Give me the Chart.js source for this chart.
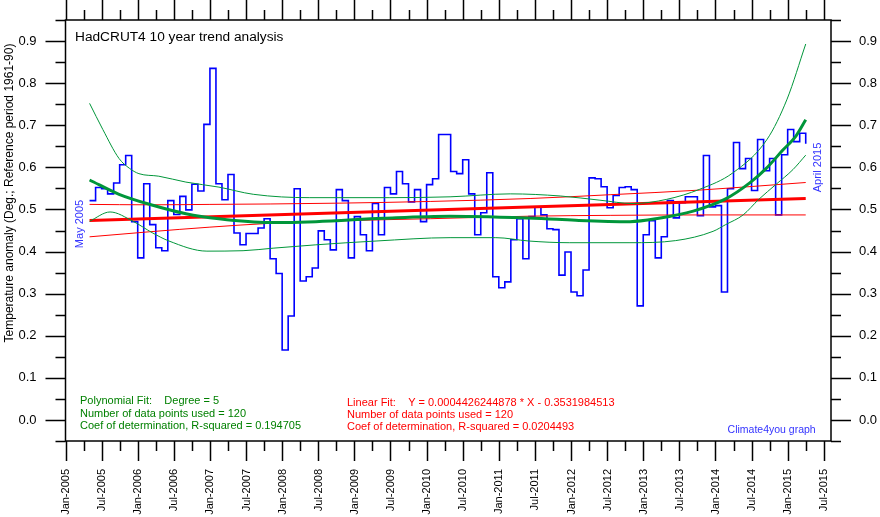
<!DOCTYPE html>
<html><head><meta charset="utf-8">
<script src="https://cdn.jsdelivr.net/npm/chart.js@4.4.1/dist/chart.umd.min.js"></script>
<style>html,body{margin:0;padding:0;background:#fff;}canvas{display:block;}</style>
</head><body>
<canvas id="c" width="880" height="517"></canvas>
<script>
// ---- data (x = months since Jan 2005) ----
const startMonth = 4; // May 2005
const anomalies = [
 0.521,0.552,0.549,0.537,0.563,0.606,0.628,0.471,0.385,0.561,
 0.464,0.409,0.402,0.521,0.488,0.531,0.499,0.560,0.544,0.702,
 0.835,0.561,0.523,0.583,0.444,0.416,0.443,0.443,0.456,0.478,
 0.383,0.348,0.166,0.247,0.549,0.330,0.340,0.361,0.449,0.428,
 0.404,0.547,0.521,0.385,0.483,0.440,0.402,0.514,0.440,0.552,
 0.537,0.590,0.561,0.518,0.547,0.471,0.559,0.573,0.678,0.678,
 0.590,0.585,0.618,0.537,0.440,0.492,0.587,0.340,0.314,0.328,
 0.428,0.478,0.383,0.483,0.506,0.487,0.454,0.452,0.344,0.399,
 0.304,0.295,0.356,0.575,0.573,0.554,0.504,0.533,0.552,0.554,
 0.547,0.271,0.440,0.473,0.385,0.435,0.521,0.480,0.516,0.530,
 0.530,0.485,0.628,0.506,0.509,0.304,0.549,0.659,0.597,0.621,
 0.545,0.666,0.592,0.621,0.487,0.630,0.690,0.661,0.681,0.656
];
// linear fit
const linFitX = [4, 123];
const linFitY = [0.474, 0.526];
const linUpperX = [4, 14, 24, 34, 45.6, 60.6, 77.2, 90.5, 105.4, 123];
const linUpperY = [0.512,0.511,0.512,0.513,0.515,0.519,0.526,0.535,0.546,0.564];
const linLowerX = [4, 14, 24, 34, 45.6, 60.6, 77.2, 90.5, 105.4, 123];
const linLowerY = [0.435,0.447,0.458,0.467,0.473,0.478,0.484,0.486,0.487,0.487];
// polynomial fit (degree 5) and its band
const polyX = [4, 8.9, 14.5, 20, 25.5, 33.8, 41.6, 52.8, 63.9, 79.8, 85.3, 93.8, 98.6, 104.3, 109.7, 113.7, 116.4, 119.2, 121.4, 123];
const polyY = [0.570,0.536,0.510,0.490,0.478,0.469,0.471,0.479,0.484,0.478,0.474,0.471,0.479,0.496,0.525,0.563,0.597,0.641,0.675,0.713];
const polyUpperX = [4, 6.2, 8.9, 10.6, 12.2, 15.5, 20, 25.5, 31.2, 40.6, 53.9, 63.9, 73.9, 82.2, 88.8, 94.3, 99.9, 105.4, 110.9, 116.6, 119.9, 123];
const polyUpperY = [0.752,0.690,0.621,0.598,0.585,0.579,0.565,0.553,0.536,0.528,0.528,0.530,0.537,0.532,0.522,0.514,0.524,0.548,0.587,0.667,0.762,0.893];
const polyLowerX = [4, 7.4, 11.2, 14.5, 17.2, 23.5, 29.5, 34.5, 41.6, 51.6, 63.9, 71.5, 77, 83.7, 93.8, 101.4, 107.6, 109.7, 112.6, 115.2, 118.1, 120.9, 123];
const polyLowerY = [0.472,0.494,0.472,0.444,0.425,0.401,0.402,0.408,0.416,0.425,0.433,0.433,0.425,0.421,0.421,0.426,0.448,0.464,0.487,0.524,0.560,0.595,0.629];
// ticks
const xTickLabels = ['Jan-2005','Jul-2005','Jan-2006','Jul-2006','Jan-2007','Jul-2007','Jan-2008','Jul-2008','Jan-2009','Jul-2009','Jan-2010','Jul-2010','Jan-2011','Jul-2011','Jan-2012','Jul-2012','Jan-2013','Jul-2013','Jan-2014','Jul-2014','Jan-2015','Jul-2015'];
const yTickLabels = ['0.0','0.1','0.2','0.3','0.4','0.5','0.6','0.7','0.8','0.9'];

const pts = (xs, ys) => xs.map((x, i) => ({x, y: ys[i]}));
const dataPts = anomalies.map((v, i) => ({x: startMonth + i, y: v}));

const GREEN = '#00963a', RED = '#ff0000', BLUE = '#0000ff', TXTBLUE = '#3333ff';
const FONT = '"Liberation Sans", Arial, sans-serif';

const framePlugin = {
  id: 'frame',
  afterDatasetsDraw(chart) {
    const {ctx, chartArea: a, scales: {x, y}} = chart;
    ctx.save();
    ctx.strokeStyle = '#000';
    ctx.lineWidth = 1.5;
    ctx.strokeRect(a.left, a.top, a.right - a.left, a.bottom - a.top);
    ctx.lineWidth = 1.5;
    ctx.beginPath();
    // x ticks top & bottom
    for (let m = 0; m <= 127; m += 3) {
      const px = Math.round(x.getPixelForValue(m)) + 0.5;
      const len = (m % 6 === 0) ? 20 : 10;
      ctx.moveTo(px, a.bottom); ctx.lineTo(px, a.bottom + len);
      ctx.moveTo(px, a.top); ctx.lineTo(px, a.top - len);
    }
    // y ticks left & right
    for (let k = -1; k <= 19; k++) {
      const v = k * 0.05;
      const py = Math.round(y.getPixelForValue(v)) + 0.5;
      const len = (k % 2 === 0) ? 20 : 10;
      ctx.moveTo(a.left, py); ctx.lineTo(a.left - len, py);
      ctx.moveTo(a.right, py); ctx.lineTo(a.right + len, py);
    }
    ctx.stroke();

    // y labels
    ctx.fillStyle = '#000';
    ctx.font = '13px ' + FONT;
    ctx.textBaseline = 'middle';
    yTickLabels.forEach((t, i) => {
      const py = y.getPixelForValue(i * 0.1);
      ctx.textAlign = 'right'; ctx.fillText(t, 36.5, py);
      ctx.textAlign = 'left'; ctx.fillText(t, 859, py);
    });
    // x labels (rotated)
    ctx.font = '11px ' + FONT;
    xTickLabels.forEach((t, i) => {
      const px = x.getPixelForValue(i * 6);
      ctx.save();
      ctx.translate(px + 0.5, 469);
      ctx.rotate(-Math.PI / 2);
      ctx.textAlign = 'right'; ctx.textBaseline = 'middle';
      ctx.fillText(t, 0, 0);
      ctx.restore();
    });
    // y axis title
    ctx.save();
    ctx.translate(10, 193);
    ctx.rotate(-Math.PI / 2);
    ctx.font = '12px ' + FONT;
    ctx.textAlign = 'center'; ctx.textBaseline = 'middle';
    ctx.fillText('Temperature anomaly (Deg.; Reference period 1961-90)', 0, 0);
    ctx.restore();
    // title
    ctx.font = '13.7px ' + FONT;
    ctx.textAlign = 'left'; ctx.textBaseline = 'alphabetic';
    ctx.fillText('HadCRUT4 10 year trend analysis', 75, 41);
    // start/end labels
    ctx.fillStyle = TXTBLUE;
    ctx.font = '11px ' + FONT;
    [['May 2005', 80, 224], ['April 2015', 817.5, 167.5]].forEach(([t, cx, cy]) => {
      ctx.save(); ctx.translate(cx, cy); ctx.rotate(-Math.PI / 2);
      ctx.textAlign = 'center'; ctx.textBaseline = 'middle'; ctx.fillText(t, 0, 0);
      ctx.restore();
    });
    // annotations
    ctx.textAlign = 'left'; ctx.textBaseline = 'middle';
    ctx.fillStyle = '#008000';
    ctx.fillText('Polynomial Fit:    Degree = 5', 80, 401);
    ctx.fillText('Number of data points used = 120', 80, 414);
    ctx.fillText('Coef of determination, R-squared = 0.194705', 80, 426);
    ctx.fillStyle = RED;
    ctx.fillText('Linear Fit:    Y = 0.0004426244878 * X - 0.3531984513', 347, 403);
    ctx.fillText('Number of data points used = 120', 347, 415);
    ctx.fillText('Coef of determination, R-squared = 0.0204493', 347, 427);
    ctx.fillStyle = TXTBLUE;
    ctx.font = '10.5px ' + FONT;
    ctx.textAlign = 'right';
    ctx.fillText('Climate4you graph', 815.7, 430);
    ctx.restore();
  }
};

new Chart(document.getElementById('c'), {
  type: 'line',
  data: {
    datasets: [
      {data: pts(polyX, polyY), borderColor: GREEN, borderWidth: 3, cubicInterpolationMode: 'monotone', order: 1},
      {data: pts(polyUpperX, polyUpperY), borderColor: GREEN, borderWidth: 1, cubicInterpolationMode: 'monotone', order: 2},
      {data: pts(polyLowerX, polyLowerY), borderColor: GREEN, borderWidth: 1, cubicInterpolationMode: 'monotone', order: 3},
      {data: pts(linFitX, linFitY), borderColor: RED, borderWidth: 3, order: 4},
      {data: pts(linUpperX, linUpperY), borderColor: RED, borderWidth: 1, cubicInterpolationMode: 'monotone', order: 5},
      {data: pts(linLowerX, linLowerY), borderColor: RED, borderWidth: 1, cubicInterpolationMode: 'monotone', order: 6},
      {data: dataPts, borderColor: BLUE, borderWidth: 1.6, stepped: true, order: 7}
    ]
  },
  options: {
    responsive: false,
    animation: false,
    devicePixelRatio: 1,
    layout: {padding: {left: 65.5, right: 49, top: 20, bottom: 76}},
    elements: {point: {radius: 0}, line: {fill: false, borderJoinStyle: 'miter'}},
    scales: {
      x: {type: 'linear', min: 0, max: 127.2, display: false},
      y: {type: 'linear', min: -0.05, max: 0.95, display: false}
    },
    plugins: {legend: {display: false}, tooltip: {enabled: false}, title: {display: false}}
  },
  plugins: [framePlugin]
});
</script>
</body></html>
